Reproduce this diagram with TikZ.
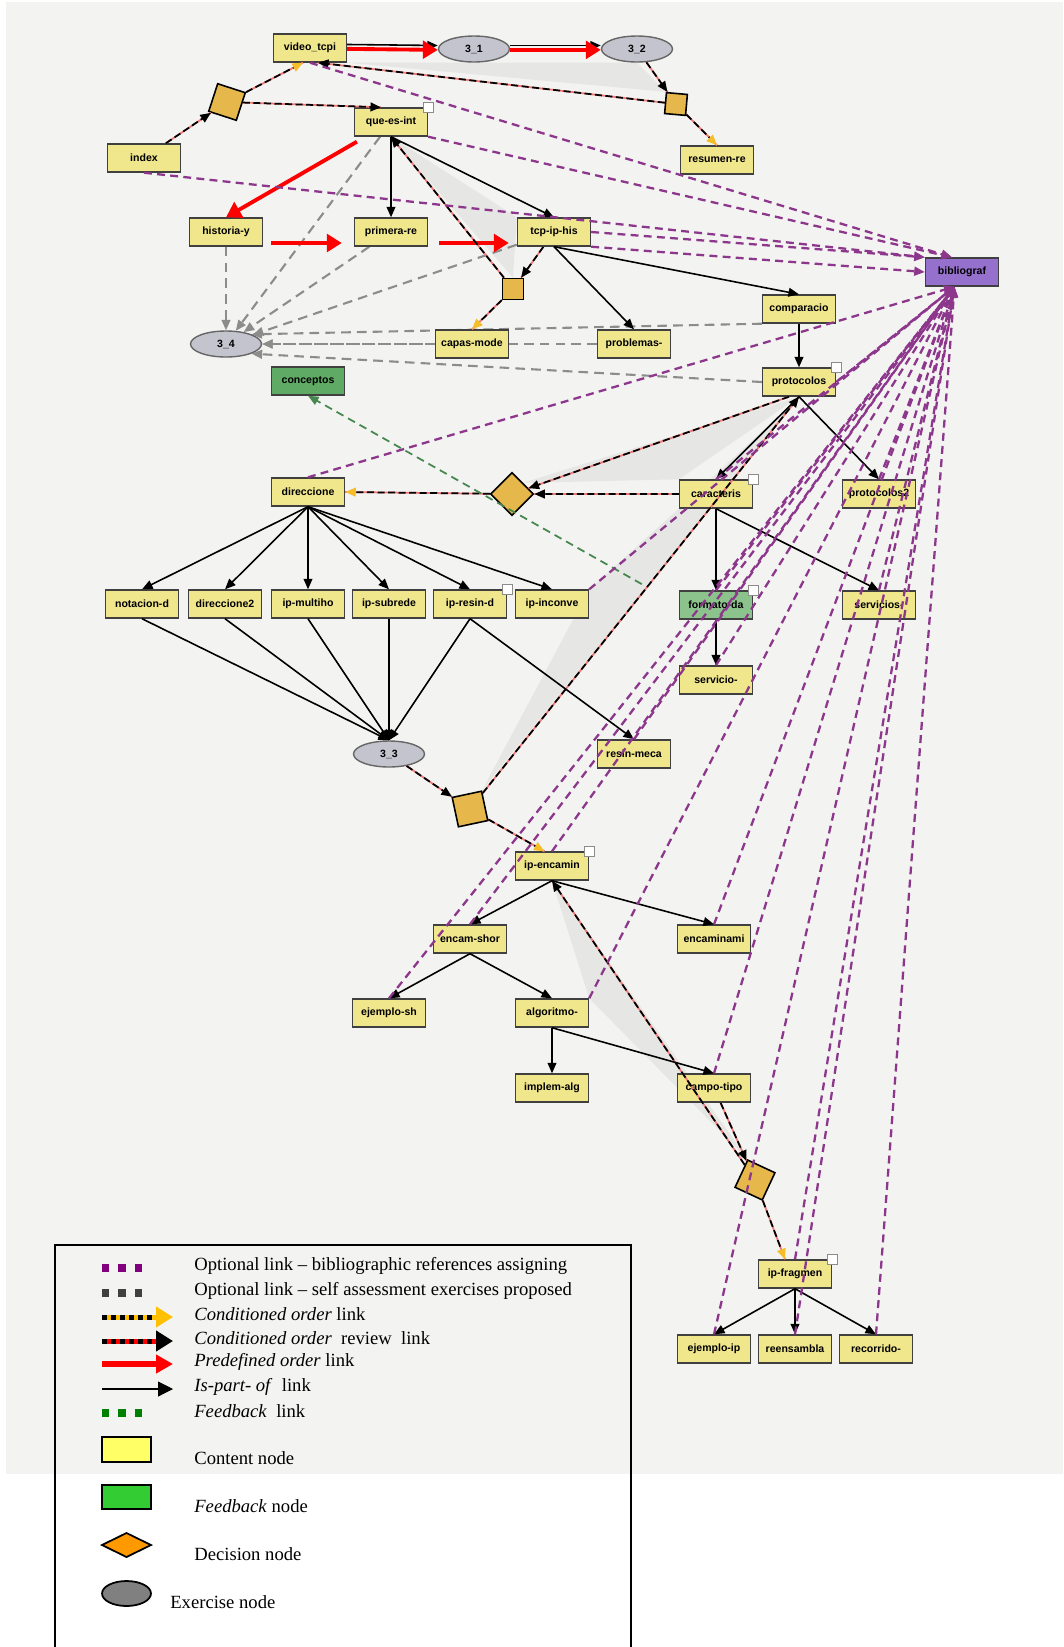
\documentclass[tikz,border=0pt]{standalone}
\usepackage{fontspec}
\setmainfont{Liberation Serif}
\newfontfamily\nodesans{Liberation Sans}
\usetikzlibrary{arrows.meta,shapes.geometric,backgrounds}

\definecolor{scan}{RGB}{243,243,241}
\definecolor{cyclegray}{RGB}{230,230,229}
\definecolor{cntfill}{RGB}{240,230,140}
\definecolor{fbfill}{RGB}{95,170,100}
\definecolor{fbfill2}{RGB}{140,195,140}
\definecolor{bibfill}{RGB}{150,112,205}
\definecolor{exfill}{RGB}{196,196,206}
\definecolor{decfill}{RGB}{230,184,76}
\definecolor{optpurple}{RGB}{140,55,140}
\definecolor{selfgray}{RGB}{140,140,140}
\definecolor{fbgreen}{RGB}{70,135,80}
\definecolor{condyel}{RGB}{245,190,40}
\definecolor{revred}{RGB}{240,120,120}
\definecolor{legpurple}{RGB}{128,0,128}
\definecolor{legdark}{RGB}{64,64,64}
\definecolor{legyellow}{RGB}{255,192,0}
\definecolor{leggreen}{RGB}{0,128,0}
\definecolor{legbox}{RGB}{255,255,102}
\definecolor{legfb}{RGB}{51,204,51}
\definecolor{legdec}{RGB}{255,153,0}
\definecolor{legex}{RGB}{128,128,128}

\begin{document}
\begin{tikzpicture}[x=0.02cm, y=-0.02cm, >={Triangle[length=6pt,width=5pt]},
	every node/.style={font=\nodesans\bfseries\fontsize{6}{7}\selectfont},
	cnt/.style={draw=black!75, line width=0.8pt, fill=cntfill, minimum width=1.46cm, minimum height=0.56cm, inner sep=0pt},
	fbk/.style={cnt, fill=fbfill},
	bibn/.style={cnt, fill=bibfill},
	exer/.style={ellipse, draw=black!60, line width=0.8pt, fill=exfill, minimum width=1.42cm, minimum height=0.52cm, inner sep=0pt},
	decn/.style={rectangle, draw=black, line width=0.9pt, fill=decfill, inner sep=0pt},
	flag/.style={label={[draw=black!45, fill=white, minimum size=0.2cm, inner sep=0pt, anchor=center, label distance=0pt]north east:{}}},
	ispart/.style={->, black, line width=0.9pt},
	predef/.style={-{Triangle[length=8.5pt,width=10pt]}, red, line width=2.2pt},
	review/.style={->, black, line width=1pt, dash pattern=on 4pt off 2pt, preaction={draw, revred, solid, line width=1pt, -}},
	condo/.style={review, -{Triangle[length=6pt,width=5pt,color=condyel]}},
	optb/.style={-{Triangle[length=6pt,width=5pt]}, optpurple, line width=1.3pt, dash pattern=on 4.5pt off 3pt},
	selfa/.style={-{Triangle[length=6pt,width=5pt]}, selfgray, line width=1.2pt, dash pattern=on 5.5pt off 3.5pt},
	fdbk/.style={-{Triangle[length=6pt,width=5pt]}, fbgreen, line width=1pt, dash pattern=on 4.5pt off 3pt},
	legend/.style={font=\fontsize{10.6}{12}\selectfont, anchor=west, inner sep=0pt}]
	\useasboundingbox (0,0) rectangle (1063,1647);

	\node[cnt] (video) at (310,48) {video\_tcpi};
	\node[exer] (e31) at (474,49) {3\_1};
	\node[exer] (e32) at (637,49) {3\_2};
	\node[decn, minimum size=0.58cm, rotate=-18] (d1) at (227,102) {};
	\node[decn, minimum size=0.42cm, rotate=-5] (d2) at (676,104) {};
	\node[cnt, flag] (qei) at (391,122) {que-es-int};
	\node[cnt] (index) at (144,158) {index};
	\node[cnt] (resum) at (717,160) {resumen-re};
	\node[cnt] (hist) at (226,232) {historia-y};
	\node[cnt] (prim) at (391,232) {primera-re};
	\node[cnt] (tcp) at (554,232) {tcp-ip-his};
	\node[bibn] (bib) at (962,272) {bibliograf};
	\node[decn, minimum size=0.42cm] (d3) at (513,289) {};
	\node[cnt] (comp) at (799,309) {comparacio};
	\node[exer] (e34) at (226,344) {3\_4};
	\node[cnt] (capas) at (472,344) {capas-mode};
	\node[cnt] (probl) at (634,344) {problemas-};
	\node[fbk] (conc) at (308,381) {conceptos};
	\node[cnt, flag] (prot) at (799,382) {protocolos};
	\node[cnt] (dir) at (308,492) {direccione};
	\node[decn, minimum size=0.6cm, rotate=45] (d4) at (512,494) {};
	\node[cnt, flag] (car) at (716,494) {caracteris};
	\node[cnt] (prot2) at (879,494) {protocolos2};
	\node[cnt] (notac) at (142,604) {notacion-d};
	\node[cnt] (dir2) at (225,604) {direccione2};
	\node[cnt] (multi) at (308,604) {ip-multiho};
	\node[cnt] (subred) at (389,604) {ip-subrede};
	\node[cnt, flag] (resin) at (470,604) {ip-resin-d};
	\node[cnt] (incon) at (552,604) {ip-inconve};
	\node[fbk, fill=fbfill2, flag] (fmt) at (716,605) {formato-da};
	\node[cnt] (servs) at (879,605) {servicios-};
	\node[cnt] (serv) at (716,680) {servicio-};
	\node[exer] (e33) at (389,754) {3\_3};
	\node[cnt] (rmeca) at (634,754) {resin-meca};
	\node[decn, minimum size=0.6cm, rotate=12] (d5) at (470,809) {};
	\node[cnt, flag] (encam) at (552,866) {ip-encamin};
	\node[cnt] (eshor) at (470,939) {encam-shor};
	\node[cnt] (encami) at (714,939) {encaminami};
	\node[cnt] (ejsh) at (389,1013) {ejemplo-sh};
	\node[cnt] (algo) at (552,1013) {algoritmo-};
	\node[cnt] (impl) at (552,1088) {implem-alg};
	\node[cnt] (campo) at (714,1088) {campo-tipo};
	\node[decn, minimum size=0.6cm, rotate=-25] (d6) at (755,1180) {};
	\node[cnt, flag] (frag) at (795,1274) {ip-fragmen};
	\node[cnt] (ejip) at (714,1349) {ejemplo-ip};
	\node[cnt] (reens) at (795,1349) {reensambla};
	\node[cnt] (recor) at (876,1349) {recorrido-};

	\begin{scope}[on background layer]
		\fill[scan] (6,2) rectangle (1063,1474);
		\fill[cyclegray] (video.south east) -- (e32.south) -- (d2.north west) -- cycle;
		\fill[cyclegray] (qei.south) -- (tcp.north west) -- (d3.north) -- cycle;
		\fill[cyclegray] (d4.east) -- (prot.south) -- (car.north west) -- cycle;
		\fill[cyclegray] (car.south west) -- (prot.south) -- (d5.north east) -- (incon.north east) -- cycle;
		\fill[cyclegray] (encam.south) -- (d6.north west) -- (algo.north east) -- cycle;
		\draw[selfa] (hist) -- (e34);
		\draw[selfa] (qei) -- (e34);
		\draw[selfa] (prim) -- (e34);
		\draw[selfa] (tcp) -- (e34);
		\draw[selfa] (probl) -- (e34);
		\draw[selfa] (capas) -- (e34);
		\draw[selfa] (comp.south west) -- (e34.north east);
		\draw[selfa] (prot.west) -- (e34.south east);
	\end{scope}

	\draw[ispart] ([yshift=2pt]video.east) -- ([yshift=2pt]e31.west);
	\draw[predef] ([yshift=-0.5pt]video.east) -- ([yshift=-0.5pt]e31.west);
	\draw[ispart] ([yshift=2pt]e31.east) -- ([yshift=2pt]e32.west);
	\draw[predef] ([yshift=-0.5pt]e31.east) -- ([yshift=-0.5pt]e32.west);
	\draw[predef, shorten <=0.2cm] (qei) -- (hist.north);
	\draw[predef, shorten <=0.16cm, shorten >=0.24cm] ([yshift=-0.22cm]hist.east) -- ([yshift=-0.22cm]prim.west);
	\draw[predef, shorten <=0.22cm, shorten >=0.16cm] ([yshift=-0.22cm]prim.east) -- ([yshift=-0.22cm]tcp.west);

	\draw[review] (index) -- (d1);
	\draw[condo] (d1) -- ([xshift=-0.14cm]video.south);
	\draw[review] (d1) -- ([xshift=-0.2cm]qei.north);
	\draw[review] (e32) -- (d2);
	\draw[review] (d2) -- ([xshift=0.16cm]video.south);
	\draw[condo] (d2) -- (resum.north);
	\draw[review] (tcp) -- (d3);
	\draw[review] (d3) -- (qei.south);
	\draw[condo] (d3) -- (capas.north);
	\draw[review] (car.west) -- (d4);
	\draw[review] ([xshift=-0.2cm]prot.south) -- (d4);
	\draw[condo] (d4) -- (dir.east);
	\draw[review] (e33) -- (d5);
	\draw[review] (d5) -- (prot.south);
	\draw[condo] (d5) -- ([xshift=-0.15cm]encam.north);
	\draw[review] (campo) -- (d6);
	\draw[review] (d6) -- (encam.south);
	\draw[condo] (d6) -- ([xshift=-0.2cm]frag.north);

	\draw[ispart] (qei) -- (prim);
	\draw[ispart] (qei.south) -- (tcp.north);
	\draw[ispart] (tcp.south) -- (comp.north);
	\draw[ispart] (tcp.south) -- (probl.north);
	\draw[ispart] (comp) -- (prot);
	\draw[ispart] (prot.south) -- (car.north);
	\draw[ispart] (prot.south) -- (prot2.north);
	\draw[ispart] (car) -- (fmt);
	\draw[ispart] (car.south) -- (servs.north);
	\draw[ispart] (fmt) -- (serv);
	\draw[ispart] (dir.south) -- (notac.north);
	\draw[ispart] (dir.south) -- (dir2.north);
	\draw[ispart] (dir.south) -- (multi.north);
	\draw[ispart] (dir.south) -- (subred.north);
	\draw[ispart] (dir.south) -- (resin.north);
	\draw[ispart] (dir.south) -- (incon.north);
	\draw[ispart] (notac.south) -- (e33.north);
	\draw[ispart] (dir2.south) -- (e33.north);
	\draw[ispart] (multi.south) -- (e33.north);
	\draw[ispart] (subred.south) -- (e33.north);
	\draw[ispart] (resin.south) -- (e33.north);
	\draw[ispart] (resin.south) -- (rmeca.north);
	\draw[ispart] (encam.south) -- (eshor.north);
	\draw[ispart] (encam.south) -- (encami.north);
	\draw[ispart] (eshor.south) -- (ejsh.north);
	\draw[ispart] (eshor.south) -- (algo.north);
	\draw[ispart] (algo) -- (impl);
	\draw[ispart] (algo.south) -- (campo.north);
	\draw[ispart] (frag.south) -- (ejip.north);
	\draw[ispart] (frag.south) -- (reens.north);
	\draw[ispart] (frag.south) -- (recor.north);

	\draw[fdbk, shorten <=0.85cm] (fmt.west) -- (conc.south);

	\draw[optb] (video.south) -- ([xshift=-0.2cm]bib.north);
	\draw[optb] (qei.south east) -- ([xshift=-0.2cm]bib.north);
	\draw[optb] (index.south) -- (bib.north west);
	\draw[optb] (tcp.east) -- (bib.north west);
	\draw[optb] (tcp.south east) -- (bib.west);
	\draw[optb] (dir.north) -- ([xshift=-0.15cm]bib.south);
	\draw[optb] (prot.east) -- ([xshift=-0.15cm]bib.south);
	\draw[optb] (car.north) -- ([xshift=-0.15cm]bib.south);
	\draw[optb] (incon.north east) -- ([xshift=-0.15cm]bib.south);
	\draw[optb] (fmt.north) -- ([xshift=-0.15cm]bib.south);
	\draw[optb] (prot2.north) -- ([xshift=-0.15cm]bib.south);
	\draw[optb] (servs.north) -- ([xshift=-0.15cm]bib.south);
	\draw[optb] (serv.north) -- ([xshift=-0.15cm]bib.south);
	\draw[optb] (rmeca.north) -- ([xshift=-0.15cm]bib.south);
	\draw[optb] (encam.north) -- ([xshift=-0.15cm]bib.south);
	\draw[optb] (eshor.north) -- ([xshift=-0.15cm]bib.south);
	\draw[optb] (ejsh.north) -- ([xshift=-0.15cm]bib.south);
	\draw[optb] (algo.north east) -- ([xshift=-0.15cm]bib.south);
	\draw[optb] (encami.north) -- ([xshift=-0.15cm]bib.south);
	\draw[optb] (campo.north) -- ([xshift=-0.15cm]bib.south);
	\draw[optb] (frag.north) -- ([xshift=-0.15cm]bib.south);
	\draw[optb] (ejip.north) -- ([xshift=-0.15cm]bib.south);
	\draw[optb] (reens.north) -- ([xshift=-0.15cm]bib.south);
	\draw[optb] (recor.north) -- ([xshift=-0.15cm]bib.south);

	\draw[line width=0.8pt] (55,1647) -- (55,1245) -- (631,1245) -- (631,1647);
	\draw[legpurple, line width=0.15cm, dash pattern=on 0.15cm off 0.18cm] (102,1268) -- (143,1268);
	\draw[legdark, line width=0.15cm, dash pattern=on 0.15cm off 0.18cm] (102,1293) -- (143,1293);
	\draw[-{Triangle[length=0.34cm,width=0.4cm]}, legyellow, line width=0.1cm] (102,1317) -- (173,1317);
	\draw[black, line width=0.1cm, dash pattern=on 0.1cm off 0.08cm] (102,1317) -- (152,1317);
	\draw[-{Triangle[length=0.34cm,width=0.4cm,color=black]}, red, line width=0.1cm] (102,1341) -- (173,1341);
	\draw[black, line width=0.1cm, dash pattern=on 0.1cm off 0.08cm] (102,1341) -- (152,1341);
	\draw[-{Triangle[length=0.34cm,width=0.36cm]}, red, line width=0.12cm] (102,1364) -- (173,1364);
	\draw[-{Triangle[length=0.3cm,width=0.3cm]}, line width=0.6pt] (102,1389) -- (173,1389);
	\draw[leggreen, line width=0.15cm, dash pattern=on 0.15cm off 0.18cm] (102,1413) -- (143,1413);
	\draw[line width=1pt, fill=legbox] (102,1437) rectangle (151,1462);
	\draw[line width=1pt, fill=legfb] (102,1485) rectangle (151,1509);
	\draw[line width=1pt, fill=legdec] (102,1545) -- (126.5,1533) -- (151,1545) -- (126.5,1557) -- cycle;
	\draw[line width=1pt, fill=legex] (126.5,1593.5) ellipse [x radius=0.49cm, y radius=0.25cm];

	\node[legend] (l1) at (194,1266) {Optional link -- bibliographic references assigning};
	\node[legend] (l2) at (194,1291) {Optional link -- self assessment exercises proposed};
	\node[legend] (l3) at (194,1314) {\textit{Conditioned order} link};
	\node[legend] (l4) at (194,1338) {\textit{Conditioned order}\ \ review\ \ link};
	\node[legend] (l5) at (194,1362) {\textit{Predefined order} link};
	\node[legend] (l6) at (194,1387) {\textit{Is-part- of}\ \ link};
	\node[legend] (l7) at (194,1411) {\textit{Feedback}\ \ link};
	\node[legend] (l8) at (194,1458) {Content node};
	\node[legend] (l9) at (194,1506) {\textit{Feedback} node};
	\node[legend] (l10) at (194,1554) {Decision node};
	\node[legend] (l11) at (170,1602) {Exercise node};
\end{tikzpicture}
\end{document}
